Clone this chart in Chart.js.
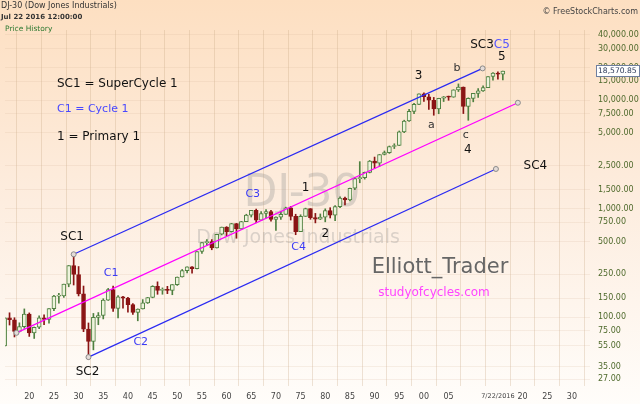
<!DOCTYPE html>
<html>
<head>
<meta charset="utf-8">
<title>DJ-30 (Dow Jones Industrials)</title>
<script src="https://cdn.jsdelivr.net/npm/chart.js@4.4.1/dist/chart.umd.min.js"></script>
<style>
  html, body { margin: 0; padding: 0; background: #fff; }
  #wrap { width: 640px; height: 404px; }
</style>
</head>
<body>
<div id="wrap"><canvas id="dj30" width="640" height="404"></canvas></div>
<script>
// yearly candles, DJ-30 1915 - Jul 22 2016
const years = [1915,1916,1917,1918,1919,1920,1921,1922,1923,1924,1925,1926,1927,1928,1929,
  1930,1931,1932,1933,1934,1935,1936,1937,1938,1939,1940,1941,1942,1943,1944,1945,1946,1947,1948,1949,
  1950,1951,1952,1953,1954,1955,1956,1957,1958,1959,1960,1961,1962,1963,1964,1965,1966,1967,1968,1969,
  1970,1971,1972,1973,1974,1975,1976,1977,1978,1979,1980,1981,1982,1983,1984,1985,1986,1987,1988,1989,
  1990,1991,1992,1993,1994,1995,1996,1997,1998,1999,2000,2001,2002,2003,2004,2005,2006,2007,2008,2009,
  2010,2011,2012,2013,2014,2015,2016];

const opens = [54.6,99.15,95.0,74.38,82.2,107.23,71.95,81.1,98.73,95.52,120.51,156.66,157.2,202.4,300.0,
  248.48,164.58,77.9,59.93,99.9,104.04,144.13,179.9,120.85,154.76,150.24,131.13,110.96,119.4,135.89,152.32,192.91,177.2,181.16,177.3,
  200.13,235.41,269.23,291.9,280.9,404.39,488.4,499.47,435.69,583.65,679.36,615.89,731.14,652.1,762.95,874.13,969.26,785.69,905.11,943.75,
  800.36,838.92,890.2,1020.02,850.86,616.24,852.41,1004.65,831.17,805.01,838.74,963.99,875.0,1046.54,1258.64,1211.57,1546.67,1895.95,1938.83,2168.57,
  2753.2,2633.66,3168.83,3301.11,3754.09,3834.44,5117.12,6448.27,7908.25,9181.43,11497.12,10786.85,10021.5,8341.63,10453.92,10783.01,10717.5,12463.15,13264.82,8776.39,
  10428.05,11577.51,12217.56,13104.14,16576.66,17823.07,17425.03];

const highs = [99.2,110.15,99.18,89.07,119.62,109.88,81.5,103.43,105.38,120.51,159.39,166.64,202.4,300.0,381.17,
  294.07,194.36,88.78,108.67,110.74,148.44,184.9,194.4,158.41,155.92,152.8,133.59,119.71,145.82,152.53,195.82,212.5,186.85,193.16,200.52,
  235.47,276.37,292.0,293.79,404.39,488.4,521.05,520.77,583.65,679.36,685.47,734.91,734.0,767.21,891.71,969.26,995.15,943.08,985.21,968.85,
  842.0,950.82,1036.27,1051.7,891.66,881.81,1014.79,1005.0,907.74,897.61,1000.17,1024.05,1070.55,1287.2,1286.64,1553.1,1955.57,2722.42,2183.5,2791.41,
  2999.75,3168.83,3413.21,3794.33,3978.36,5216.47,6560.91,8259.31,9374.27,11497.12,11722.98,11337.92,10635.25,10453.92,10854.54,10940.55,12510.57,14164.53,13280.0,10548.51,
  11585.38,12810.54,13610.15,16576.66,18053.71,18312.39,18622.01];

const lows = [54.2,84.96,65.95,73.38,79.15,66.75,63.9,78.59,85.76,88.33,115.0,135.2,152.73,191.33,198.69,
  157.51,73.79,41.22,50.16,85.51,96.71,143.11,113.64,98.95,121.44,111.84,106.34,92.92,119.26,134.22,151.35,163.12,163.21,165.39,161.6,
  196.81,235.0,256.35,255.49,279.87,388.2,462.35,419.79,435.0,574.46,566.05,610.25,535.76,646.79,762.0,840.59,744.32,785.0,825.13,769.93,
  631.16,797.97,889.15,788.31,577.6,616.0,852.0,800.85,742.12,796.67,759.13,824.01,776.92,1027.04,1086.57,1184.96,1502.29,1738.74,1879.14,2144.64,
  2365.1,2470.3,3136.58,3241.95,3593.35,3832.08,5032.94,6391.69,7539.07,9120.67,9796.03,8235.81,7286.27,7524.06,9749.99,10012.36,10667.39,12050.41,7552.29,6547.05,
  9686.48,10655.3,12101.46,13104.0,15372.8,15666.44,15450.56];

const closes = [99.15,95.0,74.38,82.2,107.23,71.95,81.1,98.73,95.52,120.51,156.66,157.2,202.4,300.0,248.48,
  164.58,77.9,59.93,99.9,104.04,144.13,179.9,120.85,154.76,150.24,131.13,110.96,119.4,135.89,152.32,192.91,177.2,181.16,177.3,200.13,
  235.41,269.23,291.9,280.9,404.39,488.4,499.47,435.69,583.65,679.36,615.89,731.14,652.1,762.95,874.13,969.26,785.69,905.11,943.75,800.36,
  838.92,890.2,1020.02,850.86,616.24,852.41,1004.65,831.17,805.01,838.74,963.99,875.0,1046.54,1258.64,1211.57,1546.67,1895.95,1938.83,2168.57,2753.2,
  2633.66,3168.83,3301.11,3754.09,3834.44,5117.12,6448.27,7908.25,9181.43,11497.12,10786.85,10021.5,8341.63,10453.92,10783.01,10717.5,12463.15,13264.82,8776.39,10428.05,
  11577.51,12217.56,13104.14,16576.66,17823.07,17425.03,18570.85];

// channel lines (year, price)
const upperYears = [1929, 2011.9];
const upperPrices = [381.17, 19700];
const middleYears = [1917.4, 2019.05];
const middlePrices = [72, 9500];
const lowerYears = [1932, 2014.6];
const lowerPrices = [43, 2330];

// axis ticks
const xTicks = [1920,1925,1930,1935,1940,1945,1950,1955,1960,1965,1970,1975,1980,1985,1990,1995,2000,2005,2010,2015,2020,2025,2030];
const yTicks = [27,35,55,75,100,150,250,500,750,1000,1500,2500,5000,7500,10000,15000,20000,30000,40000];

// wave labels, placed at (year, price)
const waveLabels = [
  { t: 'SC1', yr: 1928.7, p: 550, c: '#111', s: 12 },
  { t: 'SC2', yr: 1931.8, p: 31.3, c: '#111', s: 12 },
  { t: 'C1', yr: 1936.6, p: 256, c: '#3b3bf5', s: 11 },
  { t: 'C2', yr: 1942.6, p: 59, c: '#3b3bf5', s: 11 },
  { t: 'C3', yr: 1965.3, p: 1370, c: '#3b3bf5', s: 11 },
  { t: '1', yr: 1976.0, p: 1556, c: '#111', s: 12 },
  { t: '2', yr: 1980.0, p: 586, c: '#111', s: 12 },
  { t: 'C4', yr: 1974.6, p: 445, c: '#3b3bf5', s: 11 },
  { t: '3', yr: 1998.9, p: 16760, c: '#111', s: 12 },
  { t: 'b', yr: 2006.7, p: 19860, c: '#333', s: 11 },
  { t: 'a', yr: 2001.5, p: 5925, c: '#333', s: 11 },
  { t: 'c', yr: 2008.5, p: 4790, c: '#333', s: 11 },
  { t: '4', yr: 2008.9, p: 3484, c: '#111', s: 12 },
  { t: 'SC3', yr: 2014.17, p: 32370, c: '#111', s: 12, a: 'right' },
  { t: 'C5', yr: 2014.17, p: 32370, c: '#5555ff', s: 12, a: 'left' },
  { t: '5', yr: 2015.8, p: 25070, c: '#111', s: 12 },
  { t: 'SC4', yr: 2022.6, p: 2482, c: '#111', s: 12 }
];

const up = i => closes[i] >= opens[i];
const FONT = '"DejaVu Sans", sans-serif';
Chart.defaults.font.family = FONT;

function channel(xs, ys, color) {
  return {
    type: 'line',
    data: xs.map((x, i) => ({ x: x, y: ys[i] })),
    borderColor: color,
    borderWidth: 1.2,
    pointRadius: 2.5,
    pointBackgroundColor: '#e4dcd8',
    pointBorderColor: '#8a8a8a',
    pointBorderWidth: 1,
    order: 1
  };
}

const decor = {
  id: 'decor',
  beforeDraw(chart) {
    const ctx = chart.ctx;
    const g = ctx.createLinearGradient(0, 0, 0, chart.height);
    g.addColorStop(0, '#fddfc1');
    g.addColorStop(0.5, '#fdeddf');
    g.addColorStop(1, '#fffdfa');
    ctx.save();
    ctx.fillStyle = g;
    ctx.fillRect(0, 0, chart.width, chart.height);
    ctx.restore();
  },
  beforeDatasetsDraw(chart) {
    const ctx = chart.ctx;
    ctx.save();
    ctx.fillStyle = 'rgba(140,140,140,0.3)';
    ctx.textAlign = 'center';
    ctx.textBaseline = 'middle';
    ctx.font = '44px ' + FONT;
    ctx.fillText('DJ-30', 302, 195);
    ctx.font = '19px ' + FONT;
    ctx.fillText('Dow Jones Industrials', 298, 238);
    ctx.restore();
  },
  afterDatasetsDraw(chart) {
    const ctx = chart.ctx;
    const xs = chart.scales.x, ys = chart.scales.y;
    ctx.save();
    ctx.textBaseline = 'middle';
    waveLabels.forEach(l => {
      ctx.font = l.s + 'px ' + FONT;
      ctx.fillStyle = l.c;
      ctx.textAlign = l.a || 'center';
      ctx.fillText(l.t, xs.getPixelForValue(l.yr), ys.getPixelForValue(l.p));
    });

    // legend notes
    ctx.textAlign = 'left';
    ctx.font = '12px ' + FONT;
    ctx.fillStyle = '#111';
    ctx.fillText('SC1 = SuperCycle 1', 57, 84);
    ctx.fillStyle = '#4848ff';
    ctx.font = '11px ' + FONT;
    ctx.fillText('C1 = Cycle 1', 57, 109);
    ctx.fillStyle = '#111';
    ctx.font = '12px ' + FONT;
    ctx.fillText('1 = Primary 1', 57, 137);

    ctx.textAlign = 'center';
    ctx.fillStyle = '#666';
    ctx.font = '21px ' + FONT;
    ctx.fillText('Elliott_Trader', 440, 268);
    ctx.fillStyle = '#ff44ff';
    ctx.font = '12px ' + FONT;
    ctx.fillText('studyofcycles.com', 434, 293);
    ctx.restore();
  },
  afterDraw(chart) {
    const ctx = chart.ctx;
    ctx.save();
    ctx.textBaseline = 'middle';
    ctx.textAlign = 'left';
    ctx.fillStyle = '#333';
    ctx.font = '8px ' + FONT;
    ctx.fillText('DJ-30 (Dow Jones Industrials)', 1, 6);
    ctx.font = 'bold 7px ' + FONT;
    ctx.fillText('Jul 22 2016 12:00:00', 1, 17);
    ctx.font = '7.5px ' + FONT;
    ctx.fillStyle = '#2f7a32';
    ctx.fillText('Price History', 5, 29);
    ctx.fillStyle = '#444';
    ctx.font = '8px ' + FONT;
    ctx.textAlign = 'right';
    ctx.fillText('\u00a9 FreeStockCharts.com', 638, 12);

    // last price box
    const last = closes[closes.length - 1];
    const py = Math.round(chart.scales.y.getPixelForValue(last));
    ctx.fillStyle = '#ffffff';
    ctx.strokeStyle = '#6f7f9f';
    ctx.lineWidth = 1;
    ctx.fillRect(596.5, py - 5.5, 43, 11);
    ctx.strokeRect(596.5, py - 5.5, 43, 11);
    ctx.fillStyle = '#2d3a5a';
    ctx.textAlign = 'left';
    ctx.font = '7.6px ' + FONT;
    ctx.fillText(last.toLocaleString('en-US', { minimumFractionDigits: 2, maximumFractionDigits: 2 }), 598, py + 0.5);
    ctx.restore();
  }
};

new Chart(document.getElementById('dj30'), {
  type: 'bar',
  data: {
    datasets: [
      channel(upperYears, upperPrices, '#2a2af2'),
      channel(middleYears, middlePrices, '#ff00ff'),
      channel(lowerYears, lowerPrices, '#2a2af2'),
      {
        label: 'body',
        data: years.map((y, i) => ({ x: y, y: [opens[i], closes[i]] })),
        grouped: false,
        barThickness: 4,
        borderWidth: 1,
        borderSkipped: false,
        minBarLength: 1,
        backgroundColor: ctx => up(ctx.dataIndex) ? '#eef3dc' : '#8a1414',
        borderColor: ctx => up(ctx.dataIndex) ? '#4f8040' : '#8a1414',
        order: 2
      },
      {
        label: 'wick',
        data: years.map((y, i) => ({ x: y, y: [lows[i], highs[i]] })),
        grouped: false,
        barThickness: 1,
        borderWidth: 0,
        backgroundColor: ctx => up(ctx.dataIndex) ? '#4f8040' : '#8a1414',
        order: 3
      }
    ]
  },
  options: {
    responsive: false,
    animation: false,
    devicePixelRatio: 1,
    layout: { padding: { top: 30, left: 0, right: 0, bottom: 0 } },
    plugins: { legend: { display: false }, tooltip: { enabled: false } },
    scales: {
      x: {
        type: 'linear',
        offset: false,
        min: 1915.08,
        max: 2033.67,
        afterBuildTicks: s => { s.ticks = xTicks.map(v => ({ value: v })); },
        afterFit: s => { s.height = 18; },
        grid: { color: 'rgba(200,165,130,0.3)', drawTicks: false },
        border: { display: false },
        ticks: {
          padding: 6,
          maxRotation: 0,
          autoSkip: false,
          color: '#444',
          font: ctx => ({ size: ctx.tick && ctx.tick.value === 2015 ? 6.5 : 8 }),
          callback: v => v === 2010 ? '' : v === 2015 ? '7/22/2016' : String(v % 100).padStart(2, '0')
        }
      },
      y: {
        type: 'logarithmic',
        position: 'right',
        min: 23.3,
        max: 44476,
        afterBuildTicks: s => { s.ticks = yTicks.map(v => ({ value: v })); },
        afterFit: s => { s.width = 50; },
        grid: { color: 'rgba(210,180,150,0.18)', drawTicks: false },
        border: { display: false },
        ticks: {
          padding: 8,
          autoSkip: false,
          color: '#4f6a2c',
          font: { size: 8 },
          callback: v => Number(v).toLocaleString('en-US', { minimumFractionDigits: 2, maximumFractionDigits: 2 })
        }
      }
    }
  },
  plugins: [decor]
});
</script>
</body>
</html>
